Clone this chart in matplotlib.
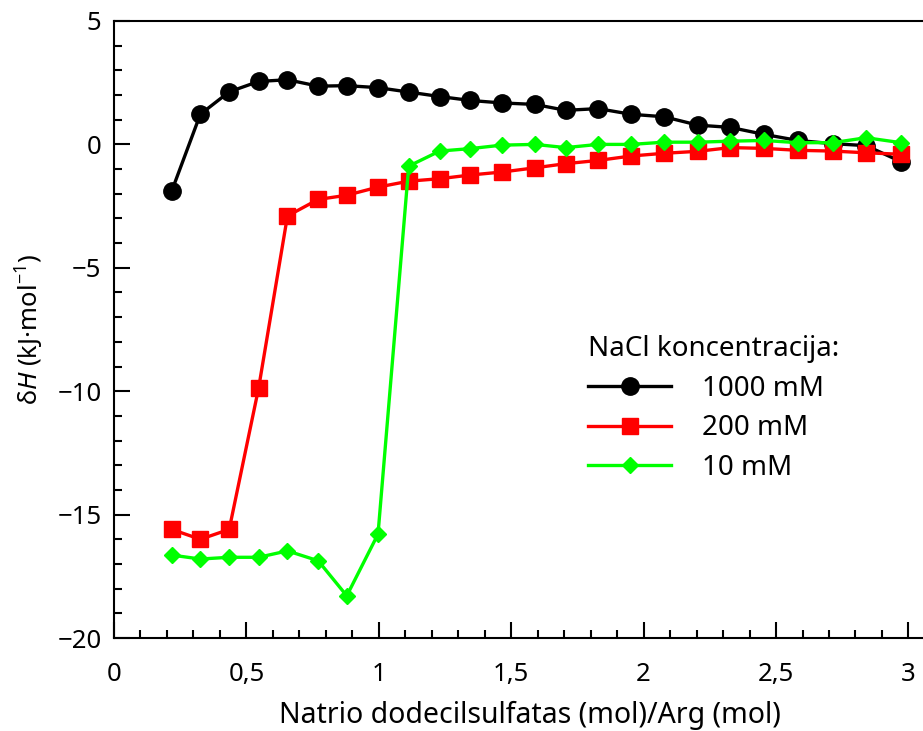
import matplotlib
matplotlib.use("Agg")
import matplotlib.pyplot as plt
from matplotlib.ticker import MultipleLocator, FuncFormatter

# SDS / Arg molar ratio (same injections for every series)
ratio = [0.218, 0.326, 0.435, 0.546, 0.655, 0.771, 0.879, 0.997,
         1.113, 1.230, 1.346, 1.464, 1.589, 1.706, 1.828, 1.953,
         2.077, 2.205, 2.327, 2.453, 2.582, 2.714, 2.840, 2.972]

dH_1000 = [-1.89, 1.22, 2.13, 2.55, 2.62, 2.36, 2.38, 2.30,
           2.12, 1.94, 1.78, 1.68, 1.62, 1.38, 1.45, 1.22,
           1.12, 0.78, 0.69, 0.41, 0.16, 0.03, -0.05, -0.70]

dH_200 = [-15.6, -16.0, -15.6, -9.88, -2.90, -2.23, -2.06, -1.73,
          -1.49, -1.39, -1.24, -1.12, -0.95, -0.78, -0.65, -0.47,
          -0.36, -0.28, -0.13, -0.16, -0.24, -0.27, -0.34, -0.40]

dH_10 = [-16.64, -16.80, -16.73, -16.73, -16.47, -16.87, -18.29, -15.79,
         -0.88, -0.27, -0.17, -0.03, 0.00, -0.13, 0.00, 0.00,
         0.09, 0.09, 0.13, 0.16, 0.07, 0.07, 0.27, 0.07]

labels = ["1000 mM", "200 mM", "10 mM"]

plt.rcParams["font.family"] = ["Noto Sans", "DejaVu Sans"]
plt.rcParams["mathtext.fontset"] = "custom"
plt.rcParams["mathtext.it"] = "Noto Sans:italic"
plt.rcParams["mathtext.rm"] = "Noto Sans"

fig = plt.figure(figsize=(9.23, 7.31), dpi=100)
ax = fig.add_axes([114 / 923, 1 - 638 / 731, 1 - 114 / 923, (638 - 21) / 731])

ax.plot(ratio, dH_1000, color="black", lw=2.4, marker="o", ms=12.5, label=labels[0])
ax.plot(ratio, dH_200, color="#ff0000", lw=2.4, marker="s", ms=11.5, label=labels[1])
ax.plot(ratio, dH_10, color="#00ff00", lw=2.4, marker="D", ms=8, label=labels[2])

ax.set_xlim(0, 3.055)
ax.set_ylim(-20, 5)

ax.xaxis.set_major_locator(MultipleLocator(0.5))
ax.xaxis.set_minor_locator(MultipleLocator(0.1))
ax.yaxis.set_major_locator(MultipleLocator(5))
ax.yaxis.set_minor_locator(MultipleLocator(1))

# comma decimal separator, unicode minus
ax.xaxis.set_major_formatter(FuncFormatter(lambda v, p: f"{v:g}".replace(".", ",")))
ax.yaxis.set_major_formatter(FuncFormatter(lambda v, p: f"{v:g}".replace("-", "\u2212")))

ax.tick_params(which="both", direction="in", top=False, right=False, width=1.5)
ax.tick_params(which="major", length=11.5, labelsize=18.5)
ax.tick_params(which="minor", length=5.8)
ax.tick_params(axis="x", which="major", pad=17)
ax.tick_params(axis="y", which="major", pad=9)

for side in ["left", "bottom", "top"]:
    ax.spines[side].set_linewidth(1.5)
ax.spines["right"].set_visible(False)

ax.set_xlabel("Natrio dodecilsulfatas (mol)/Arg (mol)", fontsize=20.5, labelpad=10)
ax.xaxis.label.set_x(0.514)
ax.set_ylabel(r"δ$\mathit{H}$ (kJ·mol$^{-1}$)", fontsize=18.5, labelpad=8)

leg = ax.legend(title="NaCl koncentracija:", loc="upper left",
                bbox_to_anchor=(588 / 923, 1 - 335 / 731),
                bbox_transform=fig.transFigure, frameon=False,
                fontsize=20, title_fontsize=20, numpoints=1,
                handlelength=3.0, handletextpad=1.1, labelspacing=0.42,
                borderpad=0, borderaxespad=0, alignment="left")

fig.savefig("out.png", dpi=100)
